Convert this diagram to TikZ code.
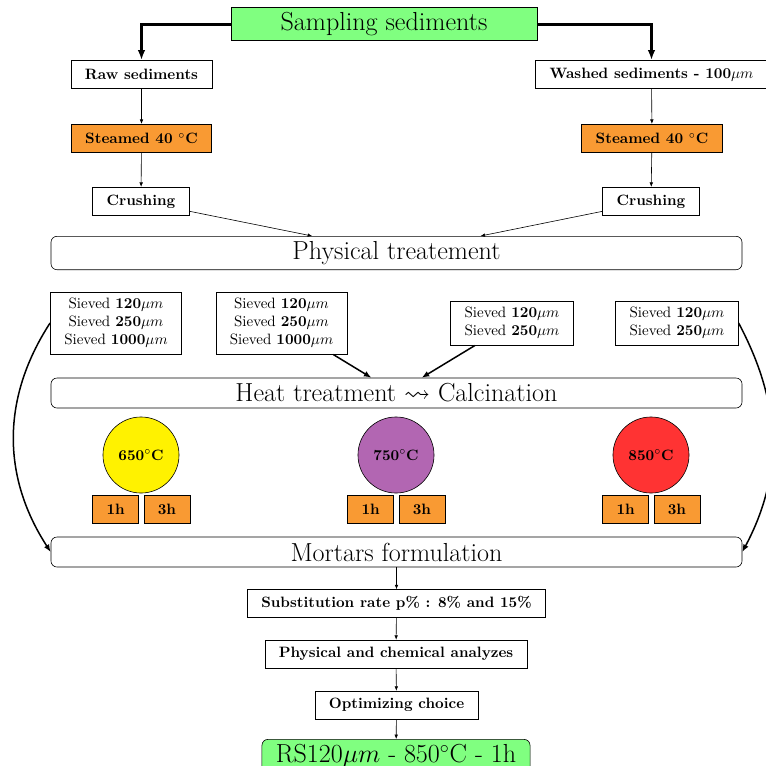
\documentclass[tikz,border=0pt]{standalone}
\usepackage{fontspec}
\usepackage{amsmath,amssymb}
\usepackage{tikz}
\usetikzlibrary{arrows.meta,positioning}
\definecolor{sampleGreen}{HTML}{80FF80}
\definecolor{ovenOrange}{HTML}{F99A33}
\definecolor{heatYellow}{HTML}{FFF200}
\definecolor{heatViolet}{HTML}{B266B2}
\definecolor{heatRed}{HTML}{FF3333}

\begin{document}
\begin{tikzpicture}[
  x=0.6667pt, y=-0.6667pt,
  >=Latex,
  font=\normalsize,
  stepbox/.style={draw, fill=white, font=\bfseries, inner xsep=9.3pt,
                  minimum height=19pt},
  ovenbox/.style={stepbox, fill=ovenOrange},
  sievebox/.style={draw, align=center, inner xsep=9.3pt, inner ysep=4.3pt},
  stagebar/.style={draw, rounded corners=4pt, minimum width=460.7pt,
                   minimum height=20pt, font=\fontsize{17.4}{20}\selectfont},
  topbox/.style={draw, fill=sampleGreen, minimum width=204pt,
                 minimum height=20pt, font=\fontsize{17.4}{20}\selectfont},
  tempdisc/.style={circle, draw, minimum size=50.7pt, inner sep=0pt,
                   font=\bfseries},
  hourbox/.style={draw, fill=ovenOrange, minimum width=30.7pt,
                  minimum height=18.7pt, inner sep=0pt, font=\bfseries},
  bigarr/.style={-{Latex[length=6.5pt,width=5pt]}, line width=2pt},
  midarr/.style={-{Latex[length=5pt,width=4pt]}, line width=1pt},
  arr/.style={-{Latex[length=3pt,width=2.4pt]}}
]
\useasboundingbox (0,0) rectangle (766,766);

% sampling and the two branches
\node[topbox] (samp) at (384,24) {Sampling sediments};
\node[stepbox] (raw) at (141.5,74.5) {Raw sediments};
\node[stepbox] (wash) at (651.5,74.5) {Washed sediments - 100$\mu m$};
\node[ovenbox] (steamL) at (141.5,138.5) {Steamed 40 $^\circ$C};
\node[ovenbox] (steamR) at (652,138.5) {Steamed 40 $^\circ$C};
\node[stepbox] (crushL) at (141,201.5) {Crushing};
\node[stepbox] (crushR) at (651,201.5) {Crushing};

\draw[bigarr] (samp.west) -| (raw.north);
\draw[bigarr] (samp.east) -| (wash.north);
\draw[arr] (raw) -- (steamL);
\draw[arr] (steamL) -- (crushL);
\draw[arr] (wash) -- (steamR);
\draw[arr] (steamR) -- (crushR);

\node[stagebar] (phys) at (396.5,253) {Physical treatement};
\draw[arr] (crushL) -- (phys);
\draw[arr] (crushR) -- (phys);

% sieving
\node[sievebox] (s1) at (116,323) {Sieved \textbf{120}$\mu m$\\Sieved \textbf{250}$\mu m$\\Sieved \textbf{1000}$\mu m$};
\node[sievebox] (s2) at (281.5,323) {Sieved \textbf{120}$\mu m$\\Sieved \textbf{250}$\mu m$\\Sieved \textbf{1000}$\mu m$};
\node[sievebox] (s3) at (512,323) {Sieved \textbf{120}$\mu m$\\Sieved \textbf{250}$\mu m$};
\node[sievebox] (s4) at (677,323) {Sieved \textbf{120}$\mu m$\\Sieved \textbf{250}$\mu m$};

\node[stagebar] (heat) at (396.5,393) {Heat treatment $\rightsquigarrow$ Calcination};
\draw[midarr] (s2) -- (heat);
\draw[midarr] (s3) -- (heat);

% calcination temperatures and durations
\node[tempdisc, fill=heatYellow] (d650) at (141,455) {650$^\circ$C};
\node[tempdisc, fill=heatViolet] (d750) at (396,455) {750$^\circ$C};
\node[tempdisc, fill=heatRed] (d850) at (651,455) {850$^\circ$C};
\node[hourbox, below left=1.3pt and 1.3pt of d650.south] (h650a) {1h};
\node[hourbox, below right=1.3pt and 1.7pt of d650.south] (h650b) {3h};
\node[hourbox, below left=1.3pt and 1.3pt of d750.south] (h750a) {1h};
\node[hourbox, below right=1.3pt and 1.7pt of d750.south] (h750b) {3h};
\node[hourbox, below left=1.3pt and 1.3pt of d850.south] (h850a) {1h};
\node[hourbox, below right=1.3pt and 1.7pt of d850.south] (h850b) {3h};

\node[stagebar] (mort) at (396.5,552) {Mortars formulation};
\draw[midarr] (s1.west) to[out=-123,in=123] (mort.west);
\draw[midarr] (s4.east) to[out=-62,in=62] (mort.east);

% formulation chain
\node[stepbox, minimum height=18.5pt] (subst) at (396.5,603.5) {Substitution rate p\% : 8\% and 15\%};
\node[stepbox, minimum height=18.5pt] (anal) at (396,654) {Physical and chemical analyzes};
\node[stepbox, minimum height=18.5pt] (optim) at (396.5,705) {Optimizing choice};
\node[draw, fill=sampleGreen, rounded corners=4pt, inner xsep=9.3pt, minimum height=20pt,
      font=\fontsize{17.4}{20}\selectfont] (final) at (396,756) {RS120$\mu m$ - 850$^\circ$C - 1h};

\draw[arr] (mort) -- (subst);
\draw[arr] (subst) -- (anal);
\draw[arr] (anal) -- (optim);
\draw[arr] (optim) -- (final);
\end{tikzpicture}
\end{document}
